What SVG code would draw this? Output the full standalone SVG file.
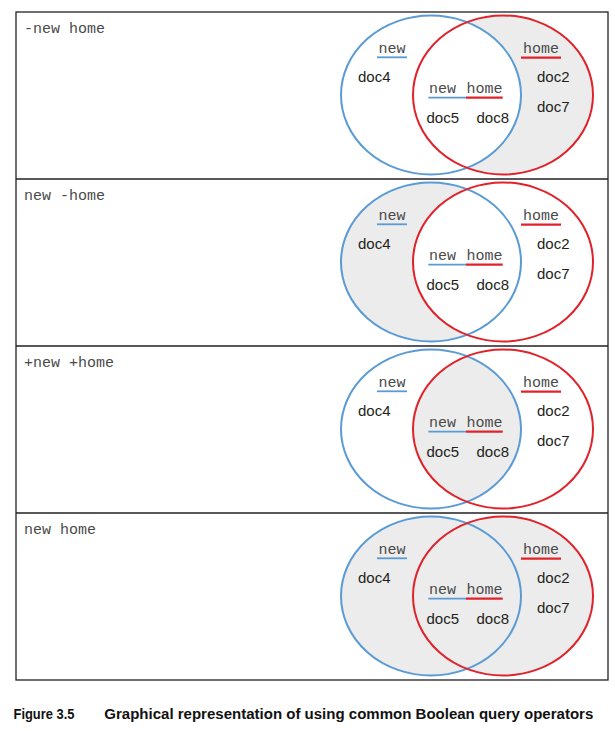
<svg xmlns="http://www.w3.org/2000/svg" width="615" height="731" viewBox="0 0 615 731">
<style>
.frame{fill:none;stroke:#231f20;stroke-width:1.3}
.div{stroke:#231f20;stroke-width:1.3}
.q{font-family:"Liberation Mono","Courier New",monospace;font-size:15px;fill:#4a4a4a}
.lab{font-family:"Liberation Mono","Courier New",monospace;font-size:15px;fill:#4a4a4a}
.doc{font-family:"Liberation Sans",Arial,sans-serif;font-size:15px;fill:#231f20}
.bc{fill:none;stroke:#5b9bd5;stroke-width:2}
.rc{fill:none;stroke:#e0232b;stroke-width:2}
.ub{stroke:#5b9bd5;stroke-width:1.8}
.ur{stroke:#e0232b;stroke-width:2.2}
.sh{fill:#ececec}
.wh{fill:#ffffff}
.cap{font-family:"Liberation Sans",Arial,sans-serif;font-size:14px;font-weight:bold;fill:#111}
</style>
<defs>
<clipPath id="clipBlue">
<ellipse cx="431" cy="95" rx="90" ry="79.5"/>
</clipPath>
<g id="labels">
<text class="lab" x="378.5" y="53">new</text>
<line class="ub" x1="377" y1="57.3" x2="407" y2="57.3"/>
<text class="lab" x="523" y="53">home</text>
<line class="ur" x1="521" y1="57.6" x2="561" y2="57.6"/>
<text class="lab" x="429" y="92.7">new</text>
<text class="lab" x="466.5" y="92.7">home</text>
<line class="ub" x1="428.3" y1="97.6" x2="466" y2="97.6"/>
<line class="ur" x1="466" y1="97.6" x2="502.7" y2="97.6"/>
<text class="doc" x="358" y="81.7">doc4</text>
<text class="doc" x="537" y="82">doc2</text>
<text class="doc" x="537" y="112.3">doc7</text>
<text class="doc" x="426.5" y="123.3">doc5</text>
<text class="doc" x="476.5" y="123.3">doc8</text>
</g>
</defs>
<rect width="615" height="731" fill="#fff"/>
<g id="frame">
<rect class="frame" x="16" y="12" width="592" height="668"/>
<line class="div" x1="16" y1="179" x2="608" y2="179"/>
<line class="div" x1="16" y1="346" x2="608" y2="346"/>
<line class="div" x1="16" y1="513" x2="608" y2="513"/>
</g>
<g id="panel-not-new-home">
<text class="q" x="24" y="32.5">-new home</text>
<ellipse class="sh" cx="503" cy="95" rx="90" ry="79.5"/>
<ellipse class="wh" cx="431" cy="95" rx="90" ry="79.5"/>
<ellipse class="bc" cx="431" cy="95" rx="90" ry="79.5"/>
<ellipse class="rc" cx="503" cy="95" rx="90" ry="79.5"/>
<use href="#labels"/>
</g>
<g id="panel-new-not-home" transform="translate(0,167)">
<text class="q" x="24" y="32.5">new -home</text>
<ellipse class="sh" cx="431" cy="95" rx="90" ry="79.5"/>
<ellipse class="wh" cx="503" cy="95" rx="90" ry="79.5"/>
<ellipse class="bc" cx="431" cy="95" rx="90" ry="79.5"/>
<ellipse class="rc" cx="503" cy="95" rx="90" ry="79.5"/>
<use href="#labels"/>
</g>
<g id="panel-and" transform="translate(0,334)">
<text class="q" x="24" y="32.5">+new +home</text>
<ellipse class="sh" cx="503" cy="95" rx="90" ry="79.5" clip-path="url(#clipBlue)"/>
<ellipse class="bc" cx="431" cy="95" rx="90" ry="79.5"/>
<ellipse class="rc" cx="503" cy="95" rx="90" ry="79.5"/>
<use href="#labels"/>
</g>
<g id="panel-or" transform="translate(0,501)">
<text class="q" x="24" y="32.5">new home</text>
<ellipse class="sh" cx="431" cy="95" rx="90" ry="79.5"/>
<ellipse class="sh" cx="503" cy="95" rx="90" ry="79.5"/>
<ellipse class="bc" cx="431" cy="95" rx="90" ry="79.5"/>
<ellipse class="rc" cx="503" cy="95" rx="90" ry="79.5"/>
<use href="#labels"/>
</g>
<g id="caption">
<text class="cap" x="13.5" y="719.3" textLength="61" lengthAdjust="spacingAndGlyphs">Figure 3.5</text>
<text class="cap" x="104.3" y="719.3" textLength="489" lengthAdjust="spacingAndGlyphs">Graphical representation of using common Boolean query operators</text>
</g>
</svg>
